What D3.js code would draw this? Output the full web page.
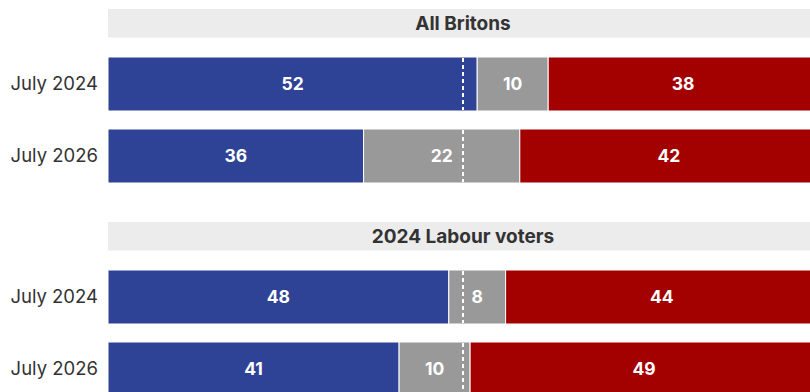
<html>
<head>
<meta charset="utf-8">
<style>
  body { margin: 0; background: #fff; }
  svg { display: block; font-family: Inter, "Open Sans", sans-serif; }
</style>
</head>
<body>
<div id="chart"></div>
<script src="https://cdn.jsdelivr.net/npm/d3@7"></script>
<script>
(function(){
  "use strict";

  // data
  var groups = ["All Britons", "2024 Labour voters"];
  var periods = ["July 2024", "July 2026"];
  var seriesNames = ["positive", "neutral", "negative"];
  var positiveVals = [52, 36, 48, 41];
  var neutralVals = [10, 22, 8, 10];
  var negativeVals = [38, 42, 44, 49];
  var seriesColors = ["#2e4395", "#999999", "#a30000"];

  var width = 810, height = 392;

  var svg = d3.select("#chart").append("svg")
    .attr("width", width)
    .attr("height", height);

  // x runs past the right edge, the last segment is cut off like in the original
  var x = d3.scaleLinear().domain([0, 100]).range([108, 818]);

  var panelY = d3.scaleBand().domain(groups).range([9, 435]);
  var rowY = d3.scaleBand().domain(periods).range([48, 174]).paddingInner(0.25);

  var color = d3.scaleOrdinal().domain(seriesNames).range(seriesColors);

  var rows = [];
  groups.forEach(function(g, gi){
    periods.forEach(function(p, pi){
      var k = gi * periods.length + pi;
      rows.push({group: g, period: p, values: [positiveVals[k], neutralVals[k], negativeVals[k]]});
    });
  });

  var panels = svg.selectAll("g.panel")
    .data(groups)
    .enter().append("g")
      .attr("class", "panel")
      .attr("transform", function(d){ return "translate(0," + panelY(d) + ")"; });

  // header strip
  panels.append("rect")
    .attr("x", x(0))
    .attr("y", 0)
    .attr("width", x(100) - x(0))
    .attr("height", 28.5)
    .attr("fill", "#ececec");

  panels.append("text")
    .attr("x", (x(0) + x(100)) / 2)
    .attr("y", 14.5)
    .attr("dy", "0.35em")
    .attr("text-anchor", "middle")
    .attr("font-size", 19)
    .attr("font-weight", 700)
    .attr("fill", "#333")
    .text(function(d){ return d; });

  var rowG = panels.selectAll("g.row")
    .data(function(g){ return rows.filter(function(r){ return r.group === g; }); })
    .enter().append("g")
      .attr("class", "row")
      .attr("transform", function(d){ return "translate(0," + rowY(d.period) + ")"; });

  rowG.append("text")
    .attr("x", 98)
    .attr("y", rowY.bandwidth() / 2)
    .attr("dy", "0.35em")
    .attr("text-anchor", "end")
    .attr("font-size", 18.5)
    .attr("fill", "#333")
    .text(function(d){ return d.period; });

  var segs = rowG.selectAll("g.seg")
    .data(function(d){
      var acc = 0;
      return d.values.map(function(v, i){
        var s = {name: seriesNames[i], value: v, x0: acc, x1: acc + v};
        acc += v;
        return s;
      });
    })
    .enter().append("g")
      .attr("class", "seg");

  segs.append("rect")
    .attr("x", function(d){ return x(d.x0); })
    .attr("y", 0)
    .attr("width", function(d){ return x(d.x1) - x(d.x0); })
    .attr("height", rowY.bandwidth())
    .attr("fill", function(d){ return color(d.name); })
    .attr("stroke", "#fff")
    .attr("stroke-width", 1);

  segs.append("text")
    .attr("x", function(d){ return (x(d.x0) + x(d.x1)) / 2; })
    .attr("y", rowY.bandwidth() / 2)
    .attr("dy", "0.35em")
    .attr("text-anchor", "middle")
    .attr("font-size", 17.5)
    .attr("font-weight", 700)
    .attr("fill", "#fff")
    .text(function(d){ return d.value; });

  // 50% marker
  rowG.append("line")
    .attr("x1", x(50))
    .attr("x2", x(50))
    .attr("y1", 1)
    .attr("y2", rowY.bandwidth() - 1)
    .attr("stroke", "#fff")
    .attr("stroke-width", 2)
    .attr("stroke-dasharray", "4,3");
})();
</script>
</body>
</html>
